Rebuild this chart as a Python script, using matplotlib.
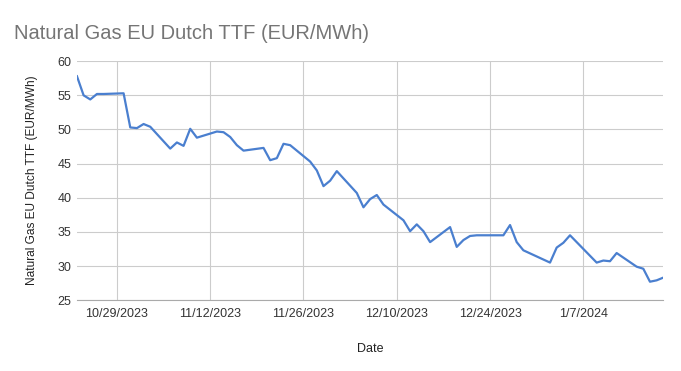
import matplotlib.pyplot as plt
import numpy as np

plt.rcParams['font.family'] = ['Liberation Sans', 'DejaVu Sans']

# daily settlement prices (trading days only)
dates = [
    "2023-10-23", "2023-10-24", "2023-10-25", "2023-10-26", "2023-10-27",
    "2023-10-30", "2023-10-31", "2023-11-01", "2023-11-02", "2023-11-03",
    "2023-11-06", "2023-11-07", "2023-11-08", "2023-11-09", "2023-11-10",
    "2023-11-13", "2023-11-14", "2023-11-15", "2023-11-16", "2023-11-17",
    "2023-11-20", "2023-11-21", "2023-11-22", "2023-11-23", "2023-11-24",
    "2023-11-27", "2023-11-28", "2023-11-29", "2023-11-30", "2023-12-01",
    "2023-12-04", "2023-12-05", "2023-12-06", "2023-12-07", "2023-12-08",
    "2023-12-11", "2023-12-12", "2023-12-13", "2023-12-14", "2023-12-15",
    "2023-12-18", "2023-12-19", "2023-12-20", "2023-12-21", "2023-12-22",
    "2023-12-26", "2023-12-27", "2023-12-28", "2023-12-29",
    "2024-01-02", "2024-01-03", "2024-01-04", "2024-01-05",
    "2024-01-09", "2024-01-10", "2024-01-11", "2024-01-12",
    "2024-01-15", "2024-01-16", "2024-01-17", "2024-01-18", "2024-01-19",
]
prices = [
    57.8, 55.0, 54.4, 55.2, 55.2,
    55.3, 50.3, 50.2, 50.8, 50.4,
    47.2, 48.1, 47.6, 50.1, 48.8,
    49.7, 49.6, 48.9, 47.7, 46.9,
    47.3, 45.5, 45.8, 47.9, 47.7,
    45.3, 44.0, 41.7, 42.5, 43.9,
    40.7, 38.6, 39.8, 40.4, 39.0,
    36.7, 35.1, 36.1, 35.1, 33.5,
    35.7, 32.8, 33.8, 34.4, 34.5,
    34.5, 36.0, 33.5, 32.3,
    30.5, 32.7, 33.4, 34.5,
    30.5, 30.8, 30.7, 31.9,
    29.9, 29.6, 27.7, 27.9, 28.3,
]
tick_dates = ["2023-10-29", "2023-11-12", "2023-11-26", "2023-12-10",
              "2023-12-24", "2024-01-07"]
tick_labels = ["10/29/2023", "11/12/2023", "11/26/2023", "12/10/2023",
               "12/24/2023", "1/7/2024"]

x = np.array(dates, dtype="datetime64[D]")
xt = np.array(tick_dates, dtype="datetime64[D]")

fig = plt.figure(figsize=(6.81, 3.71), dpi=100)
ax = fig.add_axes([0.113, 0.191, 0.861, 0.644])

ax.plot(x, prices, color='#4a7fcf', linewidth=1.6, zorder=3)

ax.set_xlim(np.datetime64("2023-10-23"), np.datetime64("2024-01-19"))
ax.set_ylim(25, 60)
ax.set_yticks(np.arange(25, 61, 5))
ax.set_xticks(xt)
ax.set_xticklabels(tick_labels)

ax.grid(True, color='#cccccc', linewidth=0.8, zorder=0)
for s in ['top', 'right', 'left']:
    ax.spines[s].set_visible(False)
ax.spines['bottom'].set_color('#aaaaaa')
ax.tick_params(length=0, labelsize=9, colors='#333333')
ax.tick_params(axis='x', pad=6)
ax.tick_params(axis='y', pad=4)

ax.set_xlabel("Date", fontsize=9, color='#222222', labelpad=16)
ax.set_ylabel("Natural Gas EU Dutch TTF (EUR/MWh)", fontsize=8.6,
              color='#222222', labelpad=14)
fig.text(0.021, 0.91, "Natural Gas EU Dutch TTF (EUR/MWh)", fontsize=14.5,
         color='#757575', ha='left', va='center')

plt.savefig("out.png", dpi=100)
